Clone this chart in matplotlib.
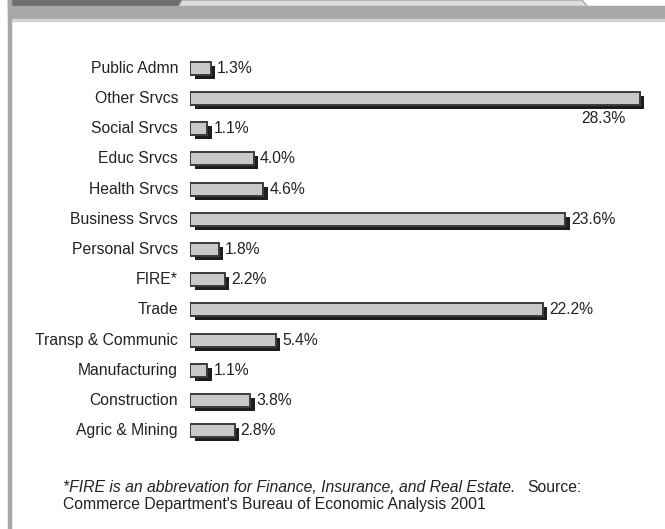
import matplotlib.pyplot as plt
import matplotlib.transforms as mtransforms
from matplotlib.patches import Rectangle, Polygon

plt.rcParams['font.family'] = ['Liberation Sans', 'DejaVu Sans']

# share of new jobs by industry (%)
industries = ["Public Admn", "Other Srvcs", "Social Srvcs", "Educ Srvcs",
              "Health Srvcs", "Business Srvcs", "Personal Srvcs", "FIRE*",
              "Trade", "Transp & Communic", "Manufacturing", "Construction",
              "Agric & Mining"]
shares = [1.3, 28.3, 1.1, 4.0, 4.6, 23.6, 1.8, 2.2, 22.2, 5.4, 1.1, 3.8, 2.8]
value_labels = [f"{v:.1f}%" for v in shares]

W, H = 665, 529
fig = plt.figure(figsize=(W / 100, H / 100), dpi=100)
fig.patch.set_facecolor('white')

def fx(px):
    return px / W

def fy(py):
    return 1 - py / H

# header strip, tab and frame
fig.patches.append(Rectangle((fx(8), fy(7)), fx(175), 7 / H,
                             transform=fig.transFigure, color='#6f6f71', zorder=0))
fig.patches.append(Polygon([(fx(178), fy(7)), (fx(182), fy(0)), (fx(582), fy(0)),
                            (fx(588), fy(7))], closed=True,
                           transform=fig.transFigure, facecolor='#dddddf',
                           edgecolor='#9a9a9c', lw=0.8, zorder=1))
fig.patches.append(Rectangle((fx(8), fy(19)), 1 - fx(8), 12.5 / H,
                             transform=fig.transFigure, color='#a8a8aa', zorder=2))
fig.patches.append(Rectangle((fx(8), fy(20.5)), 1 - fx(8), 1.5 / H,
                             transform=fig.transFigure, color='#d4d4d4', zorder=2))
fig.patches.append(Rectangle((fx(8), 0), 3 / W, 1,
                             transform=fig.transFigure, color='#a8a8aa', zorder=3))

ax = fig.add_axes([fx(190), fy(446), 30 * 15.9 / W, 393 / H])
ax.set_xlim(0, 30)
ax.set_ylim(len(industries) - 0.5, -0.5)
ax.axis('off')

rows = list(range(len(industries)))
shadow = mtransforms.offset_copy(ax.transData, fig=fig, x=4.5, y=-4, units='dots')

ax.barh(rows, shares, height=0.43, left=0, color='#1e1e1e',
        transform=shadow, zorder=2)
ax.barh(rows, shares, height=0.43, left=0, color='#c8c9cb',
        edgecolor='#3c3c3c', linewidth=1.4, zorder=3)

FS = 11.3
for r, name, v, lab in zip(rows, industries, shares, value_labels):
    ax.text(-0.75, r, name, ha='right', va='center', fontsize=FS,
            color='#222222')
    if v > 25:
        ax.annotate(lab, (v, r), xytext=(-14, -20), textcoords='offset pixels',
                    ha='right', va='center', fontsize=FS, color='#222222')
    else:
        ax.annotate(lab, (v, r), xytext=(6, 0), textcoords='offset pixels',
                    ha='left', va='center', fontsize=FS, color='#222222')

fig.text(fx(63), fy(487), "*FIRE is an abbrevation for Finance, Insurance, and Real Estate.",
         style='italic', fontsize=FS, color='#222222', va='center')
fig.text(fx(527), fy(487), "Source:", fontsize=FS, color='#222222', va='center')
fig.text(fx(63), fy(505), "Commerce Department's Bureau of Economic Analysis 2001",
         fontsize=FS, color='#222222', va='center')

fig.savefig('out.png', dpi=100, facecolor='white')
